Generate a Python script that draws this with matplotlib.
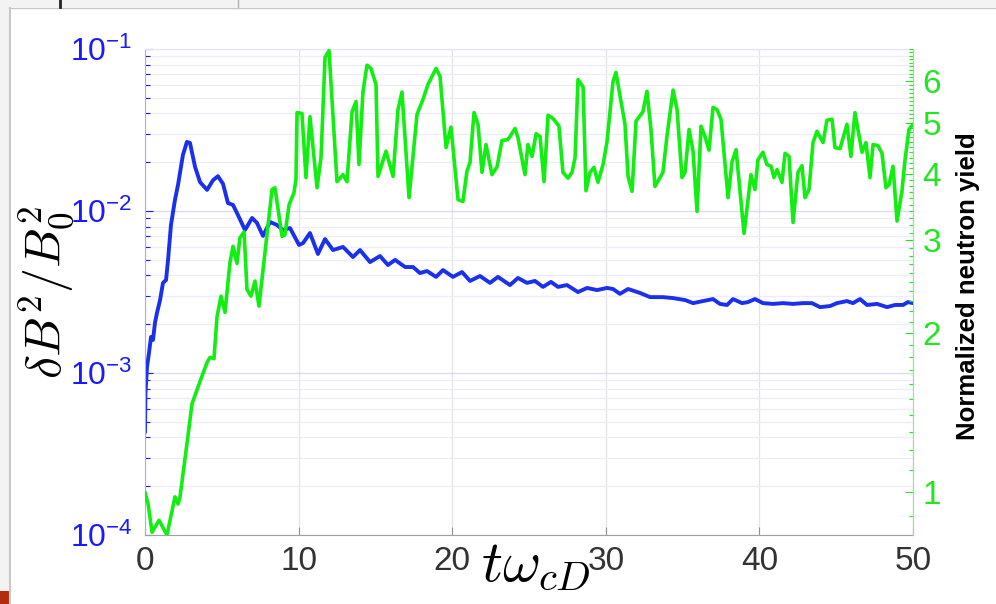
import numpy as np
import matplotlib
matplotlib.use("Agg")
import matplotlib.pyplot as plt
from matplotlib.ticker import FixedLocator, FuncFormatter, NullFormatter, LogLocator
from matplotlib.patches import Rectangle
from matplotlib.lines import Line2D

plt.rcParams["font.family"] = ["Liberation Sans", "DejaVu Sans"]
plt.rcParams["mathtext.fontset"] = "custom"
plt.rcParams["mathtext.rm"] = "Liberation Sans"
plt.rcParams["mathtext.it"] = "Liberation Sans:italic"
plt.rcParams["mathtext.bf"] = "Liberation Sans:bold"

# ── magnetic fluctuation energy (left axis) ───────────────────────────
t_field = [
    0.0, 0.03, 0.13, 0.26, 0.39, 0.52, 0.65, 0.78, 0.98, 1.17,
    1.37, 1.50, 1.69, 1.95, 2.15, 2.47, 2.73, 2.93, 3.26, 3.58,
    4.04, 4.43, 4.75, 5.08, 5.40, 5.73, 6.05, 6.51, 6.97, 7.29,
    7.68, 8.14, 8.59, 8.98, 9.44, 10.03, 10.29, 10.74, 11.26, 11.72,
    12.24, 12.89, 13.54, 14.0, 14.65, 15.30, 15.82, 16.28, 16.93, 17.45,
    17.90, 18.36, 18.95, 19.40, 20.05, 20.64, 21.16, 21.81, 22.46, 22.98,
    23.76, 24.28, 24.87, 25.39, 25.91, 26.43, 26.89, 27.47, 28.19, 28.78,
    29.43, 30.08, 30.47, 30.92, 31.45, 32.23, 32.88, 33.72, 34.38, 35.16,
    35.68, 36.33, 36.98, 37.43, 37.89, 38.28, 38.87, 39.26, 39.71, 40.23,
    40.89, 41.54, 42.19, 42.84, 43.42, 43.95, 44.60, 45.05, 45.70, 46.09,
    46.55, 47.01, 47.66, 48.31, 48.83, 49.35, 49.67, 50.0,
]
field_energy = [
    4.3e-4, 7.5e-4, 1.09e-3, 1.33e-3, 1.67e-3, 1.60e-3, 2.04e-3, 2.35e-3, 2.82e-3, 3.60e-3,
    3.75e-3, 4.99e-3, 8.2e-3, 1.17e-2, 1.45e-2, 2.22e-2, 2.67e-2, 2.63e-2, 1.87e-2, 1.51e-2,
    1.35e-2, 1.55e-2, 1.64e-2, 1.47e-2, 1.12e-2, 1.09e-2, 9.45e-3, 7.63e-3, 9.06e-3, 8.44e-3,
    7.02e-3, 8.56e-3, 8.20e-3, 7.63e-3, 7.85e-3, 6.17e-3, 6.34e-3, 7.31e-3, 5.43e-3, 6.71e-3,
    5.74e-3, 6.00e-3, 5.20e-3, 5.74e-3, 4.84e-3, 5.27e-3, 4.64e-3, 4.99e-3, 4.51e-3, 4.51e-3,
    4.14e-3, 4.26e-3, 3.92e-3, 4.32e-3, 3.92e-3, 4.20e-3, 3.70e-3, 3.97e-3, 3.60e-3, 3.92e-3,
    3.49e-3, 3.86e-3, 3.60e-3, 3.70e-3, 3.40e-3, 3.65e-3, 3.40e-3, 3.49e-3, 3.16e-3, 3.35e-3,
    3.25e-3, 3.35e-3, 3.30e-3, 3.08e-3, 3.30e-3, 3.12e-3, 2.94e-3, 2.94e-3, 2.90e-3, 2.82e-3,
    2.70e-3, 2.78e-3, 2.86e-3, 2.67e-3, 2.63e-3, 2.86e-3, 2.70e-3, 2.74e-3, 2.86e-3, 2.70e-3,
    2.67e-3, 2.70e-3, 2.67e-3, 2.70e-3, 2.70e-3, 2.55e-3, 2.59e-3, 2.70e-3, 2.78e-3, 2.70e-3,
    2.86e-3, 2.63e-3, 2.67e-3, 2.55e-3, 2.63e-3, 2.63e-3, 2.74e-3, 2.70e-3,
]

# ── normalized neutron yield (right axis) ─────────────────────────────
t_yield = [
    0.0, 0.2, 0.46, 0.91, 1.43, 1.95, 2.15, 2.28, 2.8, 3.06,
    3.58, 4.04, 4.23, 4.49, 4.69, 4.95, 5.21, 5.53, 5.73, 5.99,
    6.18, 6.45, 6.64, 6.90, 7.16, 7.42, 7.88, 8.27, 8.46, 8.92,
    9.11, 9.38, 9.70, 9.83, 9.90, 10.22, 10.48, 10.74, 11.2, 11.46,
    11.72, 11.98, 12.5, 12.89, 13.15, 13.48, 13.74, 13.93, 14.19, 14.45,
    14.71, 15.04, 15.17, 15.69, 16.15, 16.47, 16.73, 17.19, 17.71, 18.10,
    18.42, 18.95, 19.21, 19.60, 19.92, 20.38, 20.70, 20.96, 21.16, 21.42,
    21.68, 21.94, 22.2, 22.59, 22.92, 23.24, 23.63, 24.09, 24.28, 24.74,
    24.93, 25.2, 25.46, 25.72, 25.98, 26.24, 26.56, 26.95, 27.21, 27.54,
    27.8, 28.0, 28.19, 28.52, 28.71, 28.97, 29.23, 29.49, 29.82, 30.08,
    30.47, 30.66, 31.25, 31.45, 31.71, 31.97, 32.42, 32.68, 32.94, 33.2,
    33.72, 33.98, 34.38, 34.64, 34.96, 35.16, 35.42, 35.68, 35.94, 36.2,
    36.46, 36.72, 36.98, 37.24, 37.5, 37.96, 38.22, 38.48, 39.0, 39.45,
    39.71, 39.91, 40.23, 40.49, 40.76, 40.95, 41.15, 41.47, 41.67, 41.93,
    42.19, 42.51, 42.77, 42.97, 43.23, 43.49, 43.75, 44.14, 44.4, 44.73,
    44.92, 45.25, 45.7, 45.96, 46.22, 46.68, 46.94, 47.2, 47.4, 47.72,
    47.98, 48.24, 48.44, 48.7, 48.96, 49.28, 49.48, 49.74, 50.0,
]
neutron_yield = [
    1.00, 0.95, 0.84, 0.885, 0.83, 0.98, 0.95, 0.98, 1.28, 1.47,
    1.62, 1.76, 1.80, 1.79, 2.15, 2.35, 2.19, 2.72, 2.92, 2.71,
    3.03, 3.11, 2.42, 2.35, 2.51, 2.25, 2.96, 3.74, 3.77, 3.05,
    3.07, 3.50, 3.69, 3.91, 5.23, 5.21, 3.94, 5.14, 3.77, 4.30,
    6.65, 6.85, 3.87, 3.99, 3.87, 5.25, 5.49, 4.17, 5.72, 6.43,
    6.34, 5.91, 3.96, 4.42, 3.96, 5.30, 5.72, 3.61, 5.19, 5.54,
    5.91, 6.34, 6.12, 4.49, 4.91, 3.58, 3.55, 4.05, 4.21, 5.23,
    4.97, 4.03, 4.55, 3.99, 4.13, 4.63, 4.65, 4.88, 4.69, 3.99,
    4.55, 4.32, 4.77, 4.71, 3.87, 5.17, 5.10, 4.93, 4.03, 3.93,
    4.03, 4.30, 6.04, 5.85, 3.72, 4.03, 4.12, 3.86, 4.17, 4.61,
    5.99, 6.23, 4.97, 3.96, 3.71, 5.04, 5.25, 5.74, 4.86, 3.79,
    4.03, 4.71, 5.77, 5.30, 3.94, 4.03, 4.86, 4.42, 3.40, 4.93,
    4.71, 4.44, 5.35, 5.30, 5.08, 3.61, 4.22, 4.45, 3.09, 3.99,
    3.74, 4.26, 4.40, 4.17, 4.14, 3.94, 4.08, 3.86, 4.38, 4.32,
    3.24, 4.03, 4.15, 3.61, 3.74, 4.59, 4.82, 4.59, 5.06, 5.08,
    4.49, 4.47, 4.97, 4.32, 5.23, 4.40, 4.59, 3.94, 4.55, 4.53,
    4.38, 3.77, 3.82, 4.14, 3.26, 3.71, 4.26, 4.86, 4.97,
]

x_ticks = [0, 10, 20, 30, 40, 50]
field_ticks = [1e-4, 1e-3, 1e-2, 1e-1]
yield_ticks = [1, 2, 3, 4, 5, 6]
yield_minor = [round(v, 1) for v in np.arange(0.9, 6.95, 0.1) if abs(v - round(v)) > 1e-6]

BLUE = "#1a30ec"
GREEN = "#12ee12"

fig = plt.figure(figsize=(9.96, 6.04), dpi=100)

# screenshot frame bits around the plot
fig.patches.append(Rectangle((0, 1 - 7 / 604), 1, 7 / 604, transform=fig.transFigure,
                             fc="#f3f3f3", ec="none", zorder=-5))
fig.patches.append(Rectangle((0, 0), 9 / 996, 1, transform=fig.transFigure,
                             fc="#f3f3f3", ec="none", zorder=-5))
fig.lines.append(Line2D([9 / 996, 1], [1 - 7.5 / 604, 1 - 7.5 / 604], transform=fig.transFigure,
                        color="#c8c8c8", lw=1))
fig.lines.append(Line2D([9.5 / 996, 9.5 / 996], [0, 1 - 7.5 / 604], transform=fig.transFigure,
                        color="#c8c8c8", lw=1.5))
fig.lines.append(Line2D([60 / 996, 60 / 996], [1 - 7 / 604, 1], transform=fig.transFigure,
                        color="#222222", lw=2))
fig.lines.append(Line2D([238 / 996, 238 / 996], [1 - 7 / 604, 1], transform=fig.transFigure,
                        color="#b0b0b0", lw=1))
fig.patches.append(Rectangle((0, 0), 9 / 996, 13 / 604, transform=fig.transFigure,
                             fc="#b32b0f", ec="none"))

ax = fig.add_axes([145 / 996, 1 - 535 / 604, (913 - 145) / 996, (535 - 49) / 604])
ax.plot(t_field, field_energy, color=BLUE, lw=2.8, solid_joinstyle="round",
        solid_capstyle="round")
ax.set_yscale("log")
ax.set_xlim(0, 50)
ax.set_ylim(1e-4, 1e-1)
ax.set_xticks(x_ticks)
ax.yaxis.set_major_locator(FixedLocator(field_ticks))
ax.yaxis.set_minor_locator(LogLocator(base=10, subs=np.arange(2, 10)))
ax.yaxis.set_minor_formatter(NullFormatter())
ax.yaxis.set_major_formatter(FuncFormatter(lambda v, p: f"$10^{{{int(round(np.log10(v)))}}}$"))
ax.grid(axis="y", which="minor", color="#ececfb", lw=0.9)
ax.grid(axis="y", which="major", color="#dadaf6", lw=0.9)
ax.grid(axis="x", which="major", color="#e4e4e4", lw=0.9)
ax.set_axisbelow(True)

ax.tick_params(axis="y", which="both", direction="in", colors="#1a1aff", labelsize=23,
               pad=9, width=0.8)
ax.tick_params(axis="y", which="major", length=6)
ax.tick_params(axis="y", which="minor", length=3.5)
ax.tick_params(axis="x", direction="in", length=6, width=0.8, color="#909090",
               labelcolor="#333333", labelsize=24, pad=8)
ax.spines["left"].set_color("#a8a8ff")
ax.spines["bottom"].set_color("#a0a0a0")
ax.spines["top"].set_color("#e4e4f8")
ax.spines["right"].set_visible(False)

ax2 = ax.twinx()
ax2.plot(t_yield, neutron_yield, color=GREEN, lw=2.6, solid_joinstyle="round",
         solid_capstyle="round")
ax2.set_yscale("log")
ax2.set_ylim(0.83, 6.9)
ax2.yaxis.set_major_locator(FixedLocator(yield_ticks))
ax2.yaxis.set_minor_locator(FixedLocator(yield_minor))
ax2.yaxis.set_major_formatter(FuncFormatter(lambda v, p: f"{v:g}"))
ax2.yaxis.set_minor_formatter(NullFormatter())
ax2.tick_params(axis="y", which="both", direction="in", colors="#22e622", labelsize=24,
                pad=7, width=0.8)
ax2.tick_params(axis="y", which="major", length=6)
ax2.tick_params(axis="y", which="minor", length=3)
ax2.spines["right"].set_color("#80f080")
for s in ("left", "top", "bottom"):
    ax2.spines[s].set_visible(False)

fig.text(46 / 996, 1 - 292 / 604, r"$\delta B^2/B_0^2$", rotation=90, fontsize=36,
         ha="center", va="center", math_fontfamily="cm")
fig.text(536 / 996, 1 - 566 / 604, r"$t\omega_{cD}$", fontsize=42,
         ha="center", va="center", math_fontfamily="cm")
fig.text(968 / 996, 1 - 286 / 604, "Normalized neutron yield", rotation=90, fontsize=18.5,
         fontweight="bold", ha="center", va="center")

fig.savefig("out.png", dpi=100)
